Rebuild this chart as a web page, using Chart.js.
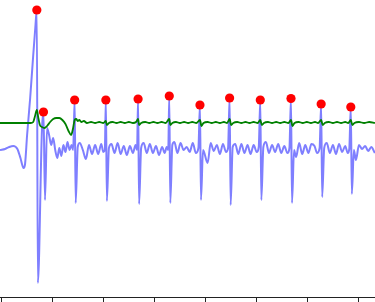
<!DOCTYPE html>
<html>
<head>
<meta charset="utf-8">
<script src="https://cdn.jsdelivr.net/npm/chart.js@4"></script>
<style>
html,body{margin:0;padding:0;background:#fff;}
#wrap{width:375px;height:302px;}
</style>
</head>
<body>
<div id="wrap"><canvas id="c" width="375" height="302"></canvas></div>
<script>
// Raw ECG trace (sample index, amplitude)
const ecgT = [-2,8,16,24,32,38,44,47,51,57,63,67,70,72,80,83,86,90,94,98,102,106,110,114,118,122,126,130,134,138,141,
  144,146,150,154,160,166,172,178,184,190,196,200,203,
  205,207,211,216,222,228,234,240,246,252,258,263,266,
  268,270,274,279,285,291,297,303,309,315,320,324,327,
  329,331,335,339,345,351,357,363,369,375,381,386,
  389,391,395,404,410,416,422,428,434,440,444,
  447,449,453,458,464,470,476,482,488,494,500,504,
  507,509,513,518,524,530,536,542,548,554,560,564,
  567,569,573,577,583,589,595,601,607,613,618,623,
  626,628,632,637,643,649,655,661,667,673,678,681,
  684,686,690,694,700,706,712,718,724,731];
const ecgV = [0,1,3,4,1,-8,-18,-14,15,52,95,122,140,-133,20,38,-50,22,15,5,12,0,-8,2,-6,5,-2,8,0,5,0,
  50,-53,3,7,0,-9,5,-4,5,-4,6,-2,0,
  50,-51,2,6,-3,7,-4,4,-5,4,-3,5,0,
  51,-54,2,7,-3,6,-3,4,-5,3,-3,3,0,
  54,-53,5,8,-3,7,0,3,-2,7,-3,2,
  45,-50,0,-13,7,-1,5,-4,6,-2,2,
  52,-55,3,6,-4,6,-3,5,-4,5,-2,3,
  50,-50,3,8,-3,5,-2,6,-3,4,-3,2,
  51.5,-53,0,-7,7,-4,5,-3,6,4,-3,2,
  46,-47,2,7,-3,5,-4,6,-2,4,-3,1,
  43,-44,0,-10,5,1,4,-1,3,-3];

// Filtered trace
const filtT = [-2,20,40,58,63,66,70,73,76,80,85,90,96,102,108,114,120,126,132,137,141,144,147,150,153,157,162,168,176,184,192,200,
  205,207,211,218,226,234,242,250,258,264,
  268,270,274,282,290,298,306,314,322,
  329,331,335,342,350,358,366,374,382,
  389,392,396,404,412,420,428,436,442,
  447,450,454,462,470,478,486,494,502,
  507,510,514,522,530,538,546,554,562,
  567,570,574,582,590,598,606,614,620,
  626,629,633,641,649,657,665,673,679,
  684,687,691,700,710,720,731];
const filtV = [27,27,27,27,28,33,40,32,25,23,22,24,28,31,32,32,30,26,19,15,22,30,31,29,30,28,29,27,28,27,28,27,
  29,25,27,28,27,28,27,28,27,28,
  31,25,27,28,27,28,27,28,27,
  31,25,27,28,27,28,27,28,27,
  30,24,27,28,27,28,27,28,27,
  31,25,27,28,27,28,27,28,27,
  30,25,27,28,27,28,27,28,27,
  30,24,27,28,27,28,27,28,27,
  30,25,27,28,27,28,27,28,27,
  30,25,27,28,27,28,27];

// Detected R-peaks
const peakT = [70,83,144,205,268,329,389,447,507,567,626,684];
const peakV = [140,38,50,50,51,54,45,52,50,51.5,46,43];

// Axis ticks (no labels visible)
const xTicks = [0,100,200,300,400,500,600,700];

const pts = (t, v) => t.map((x, i) => ({x: x, y: v[i]}));

new Chart(document.getElementById('c'), {
  type: 'scatter',
  data: {
    datasets: [
      {
        data: pts(peakT, peakV),
        backgroundColor: '#ff0000',
        borderWidth: 0,
        pointRadius: 4.6,
        showLine: false
      },
      {
        data: pts(filtT, filtV),
        borderColor: '#008000',
        borderWidth: 1.8,
        pointRadius: 0,
        showLine: true,
        cubicInterpolationMode: 'monotone'
      },
      {
        data: pts(ecgT, ecgV),
        borderColor: 'rgba(0,0,255,0.5)',
        borderWidth: 2,
        pointRadius: 0,
        showLine: true,
        cubicInterpolationMode: 'monotone'
      }
    ]
  },
  options: {
    responsive: false,
    animation: false,
    layout: {padding: 0, autoPadding: false},
    plugins: {legend: {display: false}, tooltip: {enabled: false}},
    scales: {
      x: {
        type: 'linear',
        min: -2,
        max: 731.3,
        afterBuildTicks: (s) => { s.ticks = xTicks.map(v => ({value: v})); },
        ticks: {display: false, includeBounds: false},
        grid: {drawOnChartArea: false, drawTicks: true, tickLength: 5, color: '#222', lineWidth: 1},
        border: {display: true, color: '#222', width: 1}
      },
      y: {
        type: 'linear',
        min: -147,
        max: 150,
        display: false
      }
    }
  }
});
</script>
</body>
</html>
